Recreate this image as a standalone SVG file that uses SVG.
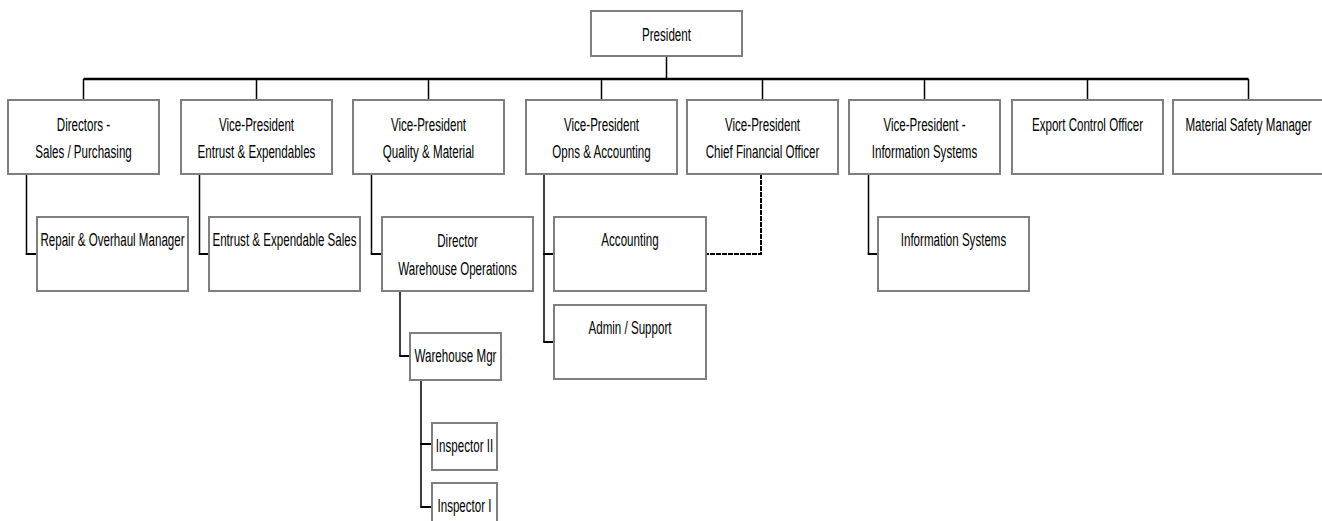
<svg xmlns="http://www.w3.org/2000/svg" width="1322" height="521" viewBox="0 0 1322 521">
<style>
.box{fill:#fff;stroke:#7f7f7f;stroke-width:2}
.t{font-family:"Liberation Sans",Arial,sans-serif;font-size:19px;fill:#000;text-anchor:middle}
.v{fill:none;stroke:#000;stroke-width:1.5}
.h{fill:none;stroke:#000;stroke-width:2}
.bus{fill:none;stroke:#000;stroke-width:2.5}
.dash{fill:none;stroke:#000;stroke-width:2;stroke-dasharray:5 1}
</style>
<rect width="1322" height="521" fill="#fff"/>
<g id="connectors">
<path class="v" d="M666.5 56 V79"/>
<path class="bus" d="M83.5 79 H1248.5"/>
<path class="v" d="M83.5 79 V100 M256.5 79 V100 M428.5 79 V100 M601.5 79 V100 M762.5 79 V100 M924.5 79 V100 M1087.5 79 V100 M1248.5 79 V100"/>
<path class="v" d="M26.5 174 V254 M199.5 174 V254 M371.5 174 V254 M544 174 V342 M868.5 174 V254 M400 291 V356 M421 380 V507"/>
<path class="h" d="M25.75 254 H37 M198.75 254 H209 M370.75 254 H382 M543.25 254 H554 M543.25 342 H554 M867.75 254 H878 M399.25 356 H410 M420.25 444 H432 M420.25 507 H432"/>
<path class="dash" d="M761 174 V254 H706"/>
</g>
<g id="president"><rect class="box" x="591" y="11" width="151" height="45"/><text class="t" transform="translate(666.5 41) scale(0.61 1)">President</text></g>
<g id="dir-sales"><rect class="box" x="8" y="100" width="151" height="74"/><text class="t" transform="translate(83.5 131) scale(0.61 1)"><tspan x="0" y="0">Directors -</tspan><tspan x="0" y="27">Sales / Purchasing</tspan></text></g>
<g id="vp-entrust"><rect class="box" x="181" y="100" width="151" height="74"/><text class="t" transform="translate(256.5 131) scale(0.61 1)"><tspan x="0" y="0">Vice-President</tspan><tspan x="0" y="27">Entrust &amp; Expendables</tspan></text></g>
<g id="vp-quality"><rect class="box" x="353" y="100" width="151" height="74"/><text class="t" transform="translate(428.5 131) scale(0.61 1)"><tspan x="0" y="0">Vice-President</tspan><tspan x="0" y="27">Quality &amp; Material</tspan></text></g>
<g id="vp-opns"><rect class="box" x="526" y="100" width="151" height="74"/><text class="t" transform="translate(601.5 131) scale(0.61 1)"><tspan x="0" y="0">Vice-President</tspan><tspan x="0" y="27">Opns &amp; Accounting</tspan></text></g>
<g id="vp-cfo"><rect class="box" x="687" y="100" width="151" height="74"/><text class="t" transform="translate(762.5 131) scale(0.61 1)"><tspan x="0" y="0">Vice-President</tspan><tspan x="0" y="27">Chief Financial Officer</tspan></text></g>
<g id="vp-is"><rect class="box" x="849" y="100" width="151" height="74"/><text class="t" transform="translate(924.5 131) scale(0.61 1)"><tspan x="0" y="0">Vice-President -</tspan><tspan x="0" y="27">Information Systems</tspan></text></g>
<g id="export"><rect class="box" x="1012" y="100" width="151" height="74"/><text class="t" transform="translate(1087.5 131) scale(0.61 1)">Export Control Officer</text></g>
<g id="safety"><rect class="box" x="1173" y="100" width="151" height="74"/><text class="t" transform="translate(1248.5 131) scale(0.61 1)">Material Safety Manager</text></g>
<g id="repair"><rect class="box" x="37" y="217" width="151" height="74"/><text class="t" transform="translate(112.5 246) scale(0.61 1)">Repair &amp; Overhaul Manager</text></g>
<g id="entrust-sales"><rect class="box" x="209" y="217" width="151" height="74"/><text class="t" transform="translate(284.5 246) scale(0.61 1)">Entrust &amp; Expendable Sales</text></g>
<g id="dir-warehouse"><rect class="box" x="382" y="217" width="151" height="74"/><text class="t" transform="translate(457.5 247) scale(0.61 1)"><tspan x="0" y="0">Director</tspan><tspan x="0" y="28">Warehouse Operations</tspan></text></g>
<g id="accounting"><rect class="box" x="554" y="217" width="152" height="74"/><text class="t" transform="translate(630 246) scale(0.61 1)">Accounting</text></g>
<g id="admin"><rect class="box" x="554" y="305" width="152" height="74"/><text class="t" transform="translate(630 334) scale(0.61 1)">Admin / Support</text></g>
<g id="info-sys"><rect class="box" x="878" y="217" width="151" height="74"/><text class="t" transform="translate(953.5 246) scale(0.61 1)">Information Systems</text></g>
<g id="warehouse-mgr"><rect class="box" x="410" y="333" width="91" height="47"/><text class="t" transform="translate(455.5 362) scale(0.61 1)">Warehouse Mgr</text></g>
<g id="inspector2"><rect class="box" x="432" y="423" width="65" height="47"/><text class="t" transform="translate(464.5 452) scale(0.61 1)">Inspector II</text></g>
<g id="inspector1"><rect class="box" x="432" y="483" width="65" height="47"/><text class="t" transform="translate(464.5 512) scale(0.61 1)">Inspector I</text></g>
</svg>
